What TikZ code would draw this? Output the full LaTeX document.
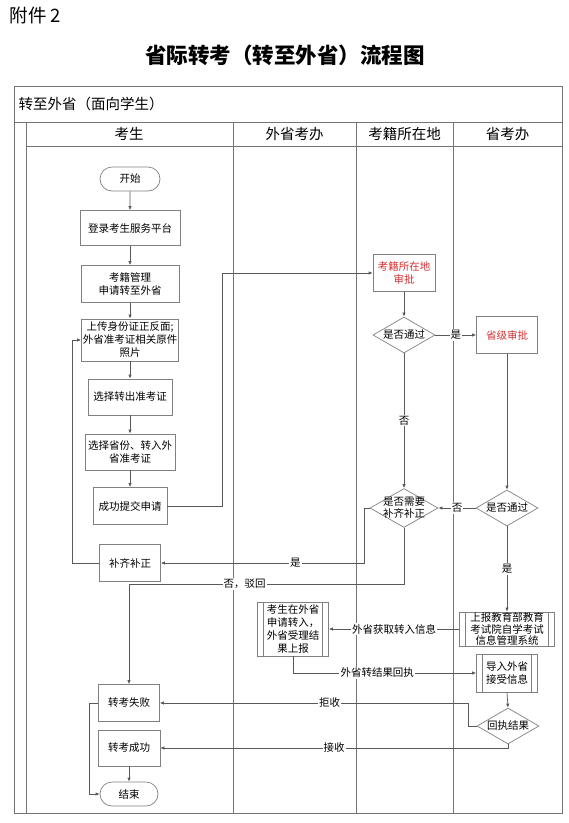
\documentclass[tikz,border=0pt]{standalone}
\usepackage{fontspec}
\setmainfont{Noto Sans CJK SC}
\usepackage{xcolor}
\usepackage{tikz}
\usetikzlibrary{arrows.meta,shapes.geometric,shapes.misc}
\definecolor{redtxt}{RGB}{214,48,49}

\begin{document}
\begin{tikzpicture}[x=1pt,y=-1pt,>={Latex[length=4pt,width=3.4pt]},
  frame/.style={draw=black!55,line width=0.9pt},
  box/.style={draw=black!50,line width=0.7pt,align=center,inner sep=1pt,font=\fontsize{10.5}{13}\selectfont},
  rbox/.style={box,text=redtxt},
  term/.style={box,rounded rectangle},
  pp/.style={box,path picture={\draw[black!50,line width=0.7pt]
    ([xshift=6pt]path picture bounding box.north west)--([xshift=6pt]path picture bounding box.south west)
    ([xshift=-6pt]path picture bounding box.north east)--([xshift=-6pt]path picture bounding box.south east);}},
  dec/.style={diamond,draw=black!50,line width=0.7pt,inner sep=0pt,minimum width=62pt,minimum height=36pt},
  dtx/.style={align=center,inner sep=0pt,font=\fontsize{10.5}{12}\selectfont},
  hd/.style={font=\fontsize{14.5}{16}\selectfont},
  lbl/.style={fill=white,inner sep=1pt,font=\fontsize{10.5}{13}\selectfont},
  arr/.style={draw=black!65,line width=0.7pt,->}]
\useasboundingbox (0,0) rectangle (569,823);
\node[anchor=west,font=\fontsize{18.5}{20}\selectfont] (att) at (6,15) {附件 2};
\node[font=\bfseries\fontsize{21.5}{24}\selectfont] (title) at (285,55) {省际转考（转至外省）流程图};
% swimlanes
\draw[frame] (14,86) rectangle (562,813);
\draw[frame] (14,122)--(562,122) (26,146)--(562,146) (26,122)--(26,813);
\draw[frame] (233,122)--(233,813) (356,122)--(356,813) (453,122)--(453,813);
\node[hd,anchor=west] (lane) at (15,104) {转至外省（面向学生）};
\node[hd] (c1) at (129,134) {考生};
\node[hd] (c2) at (294.5,134) {外省考办};
\node[hd] (c3) at (404.5,134) {考籍所在地};
\node[hd] (c4) at (507.5,134) {省考办};
% student
\node[term,minimum width=62pt,minimum height=24pt] (start) at (130,179) {开始};
\node[box,minimum width=100pt,minimum height=35pt] (login) at (130,228) {登录考生服务平台};
\node[box,minimum width=98pt,minimum height=37pt] (apply) at (130,284) {考籍管理\\申请转至外省};
\node[box,minimum width=97pt,minimum height=42pt] (upl) at (130,340) {上传身份证正反面;\\外省准考证相关原件\\照片};
\node[box,minimum width=84pt,minimum height=36pt] (out) at (130,397) {选择转出准考证};
\node[box,minimum width=90pt,minimum height=36pt] (prov) at (130,452) {选择省份、转入外\\省准考证};
\node[box,minimum width=74pt,minimum height=37pt] (sub) at (130,506) {成功提交申请};
\node[box,minimum width=61pt,minimum height=37pt] (fix) at (130,563) {补齐补正};
\node[box,minimum width=61pt,minimum height=37pt] (fail) at (129,703) {转考失败};
\node[box,minimum width=62pt,minimum height=36pt] (succ) at (129,748) {转考成功};
\node[term,minimum width=60pt,minimum height=24pt] (end) at (129,794) {结束};
\coordinate (r1) at (129,584);
% other lanes
\node[rbox,minimum width=62pt,minimum height=37pt] (a1) at (404,273) {考籍所在地\\审批};
\node[dec,label={[dtx]center:是否通过}] (d1) at (404,335) {};
\node[rbox,minimum width=61pt,minimum height=37pt] (b2) at (507,335) {省级审批};
\node[dec,minimum width=68pt,minimum height=39pt,label={[dtx]center:是否需要\\补齐补正}] (d2) at (404,508) {};
\node[dec,label={[dtx]center:是否通过}] (d3) at (507,508) {};
\node[pp,minimum width=95pt,minimum height=34pt,inner sep=0pt,font=\fontsize{10.5}{11.5}\selectfont] (rep) at (507,629) {上报教育部教育\\考试院自学考试\\信息管理系统};
\node[pp,minimum width=71pt,minimum height=54pt] (ext) at (293,629) {考生在外省\\申请转入，\\外省受理结\\果上报};
\node[pp,minimum width=61pt,minimum height=38pt] (imp) at (507,673) {导入外省\\接受信息};
\node[dec,label={[dtx]center:回执结果}] (res) at (508,726) {};
% connectors
\draw[arr] (start)--(login);
\draw[arr] (login)--(apply);
\draw[arr] (apply)--(upl);
\draw[arr] (upl)--(out);
\draw[arr] (out)--(prov);
\draw[arr] (prov)--(sub);
\draw[arr] (sub.east)--++(55,0)|-(a1.west);
\draw[arr] (a1)--(d1);
\draw[arr] (d1.east)--(b2.west) node[lbl,midway]{是};
\draw[arr] (d1.south)--(d2.north) node[lbl,midway]{否};
\draw[arr] (b2.south)--(d3.north);
\draw[arr] (d3.west)--(d2.east) node[lbl,midway]{否};
\draw[arr] (d2.west)--++(-5,0)|-(fix.east) node[lbl,pos=0.67]{是};
\draw[arr] (d2.south)|-(r1) node[lbl,pos=0.79]{否，驳回}--(fail.north);
\draw[arr] (fix.west)--++(-27,0)|-(upl.west);
\draw[arr] (d3.south)--(rep.north) node[lbl,midway]{是};
\draw[arr] (rep.west)--(ext.east) node[lbl,midway]{外省获取转入信息};
\draw[arr] (ext.south)|-(imp.west) node[lbl,pos=0.73]{外省转结果回执};
\draw[arr] (imp.south)--(res.north);
\draw[arr] (res.west)--++(-8,0)|-(fail.east) node[lbl,pos=0.725]{拒收};
\draw[arr] (res.south)|-(succ.east) node[lbl,pos=0.75]{接收};
\draw[arr] (succ)--(end);
\draw[arr] (fail.west)--++(-9,0)|-(end.west);
\end{tikzpicture}
\end{document}
